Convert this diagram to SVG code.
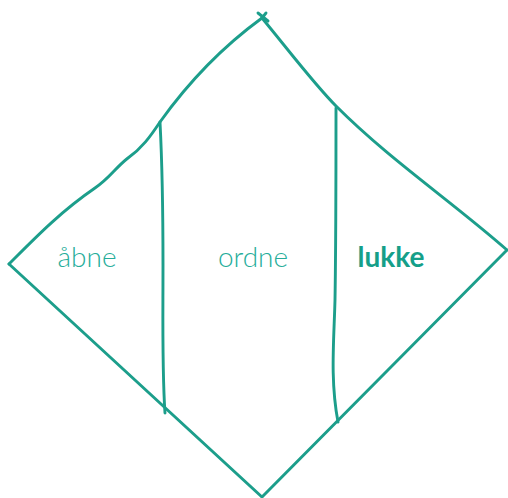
<svg xmlns="http://www.w3.org/2000/svg" width="508" height="498" viewBox="0 0 508 498">
<style>
.l{fill:none;stroke:#1c9e8b;stroke-width:2.9;stroke-linecap:round;stroke-linejoin:round}
.t{font-family:Lato,"Noto Sans",sans-serif;font-size:28px;text-anchor:middle;fill:#26ad9a;font-weight:300}
.b{font-weight:700;fill:#159f89}
</style>
<g id="connectors">
<path class="l" d="M9,264 C35,238 60,212 95,188 C110,178 115,168 128,158 C142,148 150,137 160,122 C190,80 225,45 262,18 L262,18"/>
<path class="l" d="M258,13 L268,21 M262,18 L266,13"/>
<path class="l" d="M262,18 C290,52 315,85 336,106 C390,160 450,200 507,250"/>
<path class="l" d="M507,250 L262,497 L9,264"/>
<path class="l" d="M160,122 C163,180 163,220 163,265 C163,320 162,370 165,413"/>
<path class="l" d="M336,108 C336,180 336,240 335,300 C334,340 330,380 338,422"/>
</g>
<g id="n1"><text class="t" x="87" y="267">åbne</text></g>
<g id="n2"><text class="t" x="253" y="267">ordne</text></g>
<g id="n3"><text class="t b" x="391" y="267">lukke</text></g>
</svg>
